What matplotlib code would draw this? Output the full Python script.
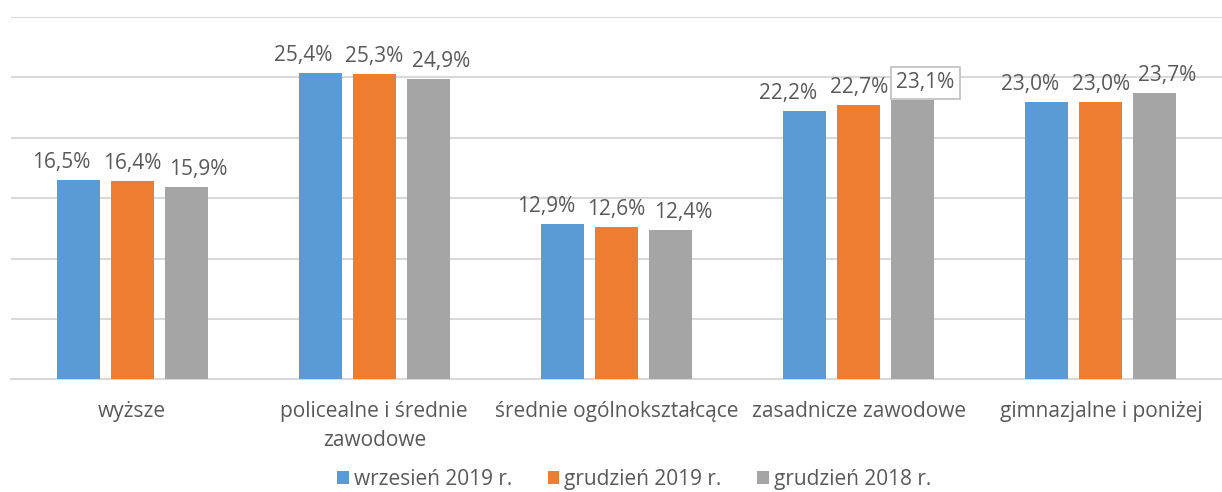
import numpy as np
import matplotlib.pyplot as plt

categories = ['wyższe', 'policealne i średnie\nzawodowe', 'średnie ogólnokształcące',
              'zasadnicze zawodowe', 'gimnazjalne i poniżej']
series_names = ['wrzesień 2019 r.', 'grudzień 2019 r.', 'grudzień 2018 r.']
wrz_2019 = [16.5, 25.4, 12.9, 22.2, 23.0]
gru_2019 = [16.4, 25.3, 12.6, 22.7, 23.0]
gru_2018 = [15.9, 24.9, 12.4, 23.1, 23.7]
colors = ['#5b9bd5', '#ed7d31', '#a5a5a5']

plt.rcParams['font.family'] = ['Open Sans', 'DejaVu Sans']
text_color = '#595959'

fig = plt.figure(figsize=(12.22, 4.92), dpi=100)
ax = fig.add_axes([0.009, 0.2287, 0.991, 0.7367])

x = np.arange(len(categories))
width = 0.178
step = 0.223
# labels of outer bars are pushed sideways so they don't collide (like Excel does)
label_shift = [-12, 0, 9]
for i, (vals, name, c) in enumerate(zip([wrz_2019, gru_2019, gru_2018], series_names, colors)):
    bars = ax.bar(x + (i - 1) * step, vals, width, color=c, label=name, zorder=3)
    for j, (b, v) in enumerate(zip(bars, vals)):
        txt = ('%.1f%%' % v).replace('.', ',')
        boxed = (i == 2 and j == 3)
        ax.annotate(txt, (b.get_x() + b.get_width() / 2, v), xytext=(label_shift[i], 5),
                    textcoords='offset points', ha='center', va='bottom',
                    fontsize=15, color=text_color, zorder=4,
                    bbox=dict(boxstyle='square,pad=0.25', fc='white', ec='#bfbfbf', lw=1.2) if boxed else None)

ax.set_xlim(-0.5, len(categories) - 0.5)
ax.set_ylim(0, 30)
ax.set_yticks(np.arange(0, 31, 5))
ax.yaxis.grid(True, color='#d9d9d9', lw=1.5, zorder=0)
ax.tick_params(axis='y', left=False, labelleft=False)
ax.tick_params(axis='x', bottom=False, labelsize=15, labelcolor=text_color, pad=12)
ax.set_xticks(x)
ax.set_xticklabels(categories, linespacing=1.5)
for s in ['top', 'left', 'right']:
    ax.spines[s].set_visible(False)
ax.spines['bottom'].set_color('#d9d9d9')
ax.spines['bottom'].set_linewidth(1.5)

leg = fig.legend(loc='lower center', bbox_to_anchor=(0.519, -0.034), ncol=3, frameon=False,
                 fontsize=15, handlelength=0.55, handleheight=0.55, handletextpad=0.25,
                 columnspacing=1.7)
for t in leg.get_texts():
    t.set_color(text_color)

fig.savefig('out.png', dpi=100)
